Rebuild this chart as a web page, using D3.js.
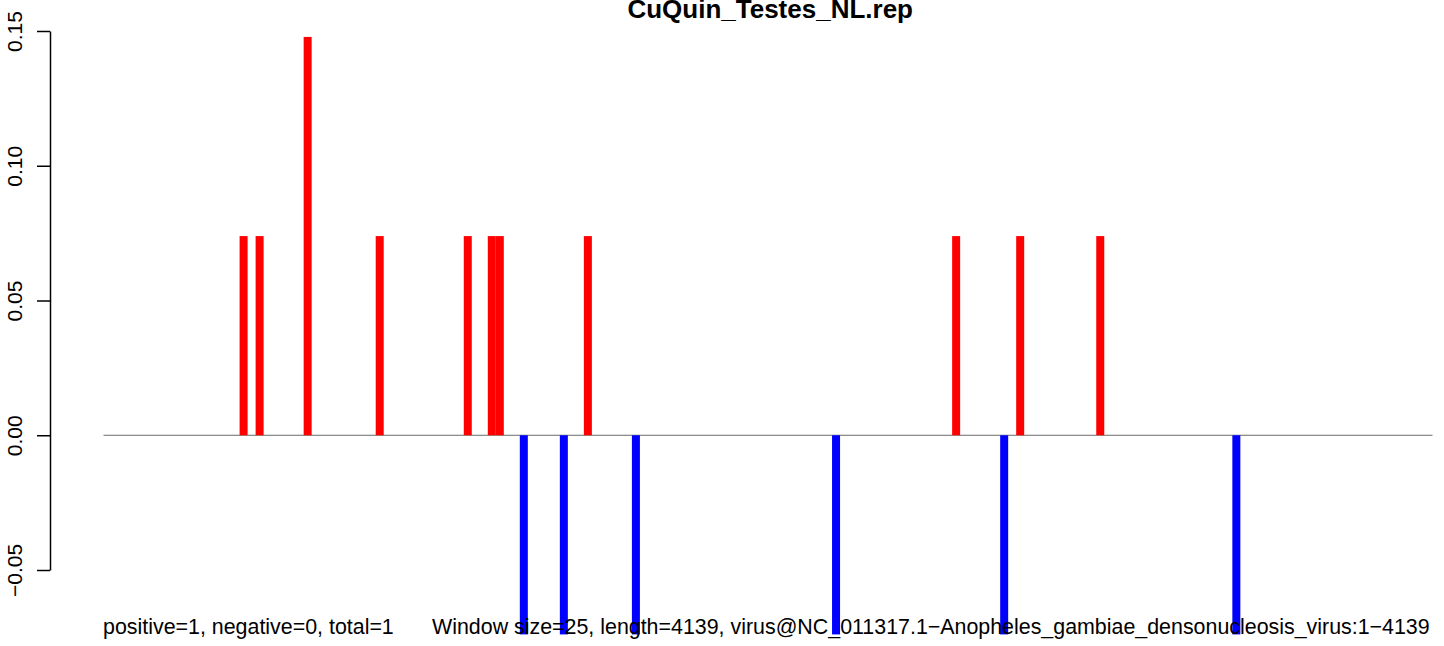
<!DOCTYPE html>
<html>
<head>
<meta charset="utf-8">
<script src="https://cdn.jsdelivr.net/npm/d3@7"></script>
<style>
  body { margin: 0; background: #fff; }
  svg { display: block; font-family: "Liberation Sans", Arial, sans-serif; }
</style>
</head>
<body>
<svg class="plot" width="1444" height="646"></svg>
<script>
const title = "CuQuin_Testes_NL.rep"
const windowSize = 25
const seqLength = 4139
const summaryText = "positive=1, negative=0, total=1"
const infoText = "Window size=25, length=4139, virus@NC_011317.1\u2212Anopheles_gambiae_densonucleosis_virus:1\u22124139"

// window start positions (bp) and their values
const windowStarts = [425, 475, 625, 850, 1125, 1200, 1225, 1300, 1425, 1500, 1650, 2275, 2650, 2800, 2850, 3100, 3525]
const windowValues = [0.0739, 0.0739, 0.1478, 0.0739, 0.0739, 0.0739, 0.0739, -0.0739, -0.0739, 0.0739, -0.0739, -0.0739, 0.0739, -0.0739, 0.0739, 0.0739, -0.0739]
const yTicks = [-0.05, 0, 0.05, 0.10, 0.15]

function render() {
  const svg = d3.select(".plot")
  const nWindows = Math.ceil(seqLength / windowSize)

  const x = d3.scaleLinear()
    .domain([0, nWindows * windowSize])
    .range([103.5, 1432.5])

  const y = d3.scaleLinear()
    .domain([-0.05, 0.15])
    .range([570, 31])

  // title (cut at the top, as in the original)
  svg.append("text")
    .attr("x", 913)
    .attr("y", 18)
    .attr("text-anchor", "end")
    .style("font-size", "26px")
    .style("font-weight", "bold")
    .text(title)

  // zero line
  svg.append("line")
    .attr("x1", x(0))
    .attr("x2", x(nWindows * windowSize))
    .attr("y1", y(0))
    .attr("y2", y(0))
    .attr("stroke", "#6b6b6b")
    .attr("stroke-width", 1)

  const data = windowStarts.map((s, i) => ({ start: s, value: windowValues[i] }))

  svg.selectAll(".bar")
    .data(data)
    .enter().append("rect")
    .attr("class", "bar")
    .attr("x", d => x(d.start))
    .attr("width", d => x(d.start + windowSize) - x(d.start))
    .attr("y", d => y(Math.max(0, d.value)))
    .attr("height", d => Math.abs(y(d.value) - y(0)))
    .attr("fill", d => d.value > 0 ? "#ff0000" : "#0000ff")

  // y axis
  const yAxis = svg.append("g")
    .attr("transform", "translate(50,0)")
    .call(d3.axisLeft(y).tickValues(yTicks).tickSize(13).tickSizeOuter(0).tickFormat(d3.format(".2f")))

  yAxis.select(".domain").attr("stroke", "#000").attr("stroke-width", 1.5)
  yAxis.selectAll(".tick line").attr("stroke", "#000").attr("stroke-width", 1.5)
  yAxis.selectAll(".tick text")
    .attr("transform", "rotate(-90)")
    .attr("x", 0)
    .attr("y", -28)
    .attr("dy", 0)
    .attr("text-anchor", "middle")
    .attr("fill", "#000")
    .style("font-size", "21px")
    .style("font-family", "'Liberation Sans', Arial, sans-serif")

  // bottom notes
  svg.append("text")
    .attr("x", 103)
    .attr("y", 634)
    .style("font-size", "21.4px")
    .text(summaryText)

  svg.append("text")
    .attr("x", 432)
    .attr("y", 634)
    .style("font-size", "21.4px")
    .text(infoText)
}

render()
</script>
</body>
</html>
